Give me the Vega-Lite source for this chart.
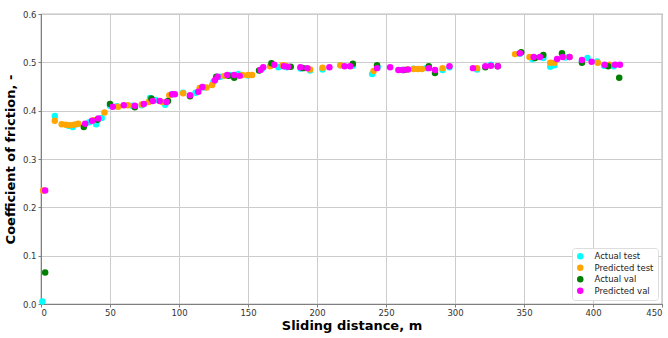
{
  "$schema": "https://vega.github.io/schema/vega-lite/v6.json",
  "width": 621,
  "height": 290,
  "autosize": "none",
  "padding": {"left": 41, "top": 14, "right": 6, "bottom": 34},
  "background": "white",
  "config": {
    "view": {"stroke": "#7f7f7f", "strokeWidth": 1.2},
    "font": "DejaVu Sans"
  },
  "data": {
    "values": [
      {"s":"Actual test","d":1,"c":0.005},{"s":"Actual test","d":10,"c":0.389},{"s":"Actual test","d":20,"c":0.369},{"s":"Actual test","d":23,"c":0.366},{"s":"Actual test","d":26,"c":0.372},{"s":"Actual test","d":35,"c":0.376},{"s":"Actual test","d":40,"c":0.372},{"s":"Actual test","d":44,"c":0.385},{"s":"Actual test","d":50,"c":0.41},{"s":"Actual test","d":55,"c":0.409},{"s":"Actual test","d":66,"c":0.41},{"s":"Actual test","d":73,"c":0.411},{"s":"Actual test","d":79,"c":0.426},{"s":"Actual test","d":83,"c":0.422},{"s":"Actual test","d":90,"c":0.412},{"s":"Actual test","d":95,"c":0.434},{"s":"Actual test","d":103,"c":0.437},{"s":"Actual test","d":112,"c":0.437},{"s":"Actual test","d":118,"c":0.448},{"s":"Actual test","d":125,"c":0.46},{"s":"Actual test","d":130,"c":0.47},{"s":"Actual test","d":137,"c":0.474},{"s":"Actual test","d":143,"c":0.476},{"s":"Actual test","d":150,"c":0.473},{"s":"Actual test","d":160,"c":0.486},{"s":"Actual test","d":167,"c":0.494},{"s":"Actual test","d":172,"c":0.49},{"s":"Actual test","d":178,"c":0.49},{"s":"Actual test","d":188,"c":0.487},{"s":"Actual test","d":195,"c":0.483},{"s":"Actual test","d":204,"c":0.485},{"s":"Actual test","d":217,"c":0.494},{"s":"Actual test","d":226,"c":0.493},{"s":"Actual test","d":240,"c":0.476},{"s":"Actual test","d":244,"c":0.49},{"s":"Actual test","d":262,"c":0.484},{"s":"Actual test","d":270,"c":0.487},{"s":"Actual test","d":279,"c":0.488},{"s":"Actual test","d":291,"c":0.484},{"s":"Actual test","d":296,"c":0.49},{"s":"Actual test","d":316,"c":0.485},{"s":"Actual test","d":326,"c":0.495},{"s":"Actual test","d":347,"c":0.518},{"s":"Actual test","d":356,"c":0.507},{"s":"Actual test","d":364,"c":0.509},{"s":"Actual test","d":369,"c":0.491},{"s":"Actual test","d":372,"c":0.494},{"s":"Actual test","d":380,"c":0.51},{"s":"Actual test","d":392,"c":0.501},{"s":"Actual test","d":396,"c":0.509},{"s":"Actual test","d":403,"c":0.502},{"s":"Actual test","d":408,"c":0.493},{"s":"Actual test","d":415,"c":0.492},
      {"s":"Predicted test","d":1.5,"c":0.235},{"s":"Predicted test","d":10,"c":0.379},{"s":"Predicted test","d":15,"c":0.372},{"s":"Predicted test","d":18,"c":0.371},{"s":"Predicted test","d":21,"c":0.37},{"s":"Predicted test","d":24,"c":0.371},{"s":"Predicted test","d":27,"c":0.373},{"s":"Predicted test","d":38,"c":0.38},{"s":"Predicted test","d":46,"c":0.396},{"s":"Predicted test","d":56,"c":0.408},{"s":"Predicted test","d":63,"c":0.411},{"s":"Predicted test","d":73,"c":0.413},{"s":"Predicted test","d":78,"c":0.418},{"s":"Predicted test","d":88,"c":0.418},{"s":"Predicted test","d":93,"c":0.432},{"s":"Predicted test","d":103,"c":0.436},{"s":"Predicted test","d":115,"c":0.447},{"s":"Predicted test","d":120,"c":0.448},{"s":"Predicted test","d":124,"c":0.453},{"s":"Predicted test","d":133,"c":0.472},{"s":"Predicted test","d":146,"c":0.474},{"s":"Predicted test","d":150,"c":0.474},{"s":"Predicted test","d":153,"c":0.474},{"s":"Predicted test","d":166,"c":0.492},{"s":"Predicted test","d":175,"c":0.494},{"s":"Predicted test","d":177,"c":0.493},{"s":"Predicted test","d":195,"c":0.485},{"s":"Predicted test","d":204,"c":0.489},{"s":"Predicted test","d":217,"c":0.494},{"s":"Predicted test","d":241,"c":0.482},{"s":"Predicted test","d":265,"c":0.485},{"s":"Predicted test","d":270,"c":0.486},{"s":"Predicted test","d":273,"c":0.486},{"s":"Predicted test","d":276,"c":0.486},{"s":"Predicted test","d":291,"c":0.488},{"s":"Predicted test","d":316,"c":0.488},{"s":"Predicted test","d":343.5,"c":0.517},{"s":"Predicted test","d":354,"c":0.511},{"s":"Predicted test","d":369,"c":0.499},{"s":"Predicted test","d":372,"c":0.499},{"s":"Predicted test","d":383,"c":0.511},{"s":"Predicted test","d":403.5,"c":0.499},{"s":"Predicted test","d":412,"c":0.495},
      {"s":"Actual val","d":3,"c":0.065},{"s":"Actual val","d":31,"c":0.366},{"s":"Actual val","d":41,"c":0.381},{"s":"Actual val","d":50,"c":0.414},{"s":"Actual val","d":68,"c":0.407},{"s":"Actual val","d":80,"c":0.425},{"s":"Actual val","d":92,"c":0.42},{"s":"Actual val","d":108,"c":0.43},{"s":"Actual val","d":127,"c":0.47},{"s":"Actual val","d":136,"c":0.472},{"s":"Actual val","d":140,"c":0.468},{"s":"Actual val","d":158,"c":0.483},{"s":"Actual val","d":167,"c":0.498},{"s":"Actual val","d":181,"c":0.491},{"s":"Actual val","d":190,"c":0.488},{"s":"Actual val","d":226,"c":0.497},{"s":"Actual val","d":243.5,"c":0.494},{"s":"Actual val","d":263,"c":0.484},{"s":"Actual val","d":281,"c":0.492},{"s":"Actual val","d":285.5,"c":0.478},{"s":"Actual val","d":322,"c":0.49},{"s":"Actual val","d":331,"c":0.492},{"s":"Actual val","d":348,"c":0.521},{"s":"Actual val","d":358,"c":0.509},{"s":"Actual val","d":364,"c":0.515},{"s":"Actual val","d":377.5,"c":0.519},{"s":"Actual val","d":392,"c":0.499},{"s":"Actual val","d":411,"c":0.492},{"s":"Actual val","d":419,"c":0.468},
      {"s":"Predicted val","d":3,"c":0.235},{"s":"Predicted val","d":32,"c":0.373},{"s":"Predicted val","d":37,"c":0.379},{"s":"Predicted val","d":41.5,"c":0.384},{"s":"Predicted val","d":52,"c":0.408},{"s":"Predicted val","d":60,"c":0.411},{"s":"Predicted val","d":68,"c":0.41},{"s":"Predicted val","d":74.5,"c":0.414},{"s":"Predicted val","d":81,"c":0.42},{"s":"Predicted val","d":86,"c":0.42},{"s":"Predicted val","d":91,"c":0.418},{"s":"Predicted val","d":95,"c":0.434},{"s":"Predicted val","d":97,"c":0.434},{"s":"Predicted val","d":108,"c":0.432},{"s":"Predicted val","d":114,"c":0.439},{"s":"Predicted val","d":117,"c":0.449},{"s":"Predicted val","d":126,"c":0.463},{"s":"Predicted val","d":128,"c":0.47},{"s":"Predicted val","d":135,"c":0.474},{"s":"Predicted val","d":140,"c":0.474},{"s":"Predicted val","d":144,"c":0.472},{"s":"Predicted val","d":159,"c":0.484},{"s":"Predicted val","d":161,"c":0.49},{"s":"Predicted val","d":169,"c":0.495},{"s":"Predicted val","d":176,"c":0.492},{"s":"Predicted val","d":179,"c":0.491},{"s":"Predicted val","d":188,"c":0.49},{"s":"Predicted val","d":193,"c":0.488},{"s":"Predicted val","d":209,"c":0.49},{"s":"Predicted val","d":220,"c":0.492},{"s":"Predicted val","d":224,"c":0.492},{"s":"Predicted val","d":243.5,"c":0.488},{"s":"Predicted val","d":253,"c":0.49},{"s":"Predicted val","d":259,"c":0.484},{"s":"Predicted val","d":262,"c":0.484},{"s":"Predicted val","d":266,"c":0.485},{"s":"Predicted val","d":281,"c":0.488},{"s":"Predicted val","d":285.5,"c":0.484},{"s":"Predicted val","d":296,"c":0.492},{"s":"Predicted val","d":313,"c":0.488},{"s":"Predicted val","d":322,"c":0.492},{"s":"Predicted val","d":326,"c":0.493},{"s":"Predicted val","d":331,"c":0.492},{"s":"Predicted val","d":347,"c":0.519},{"s":"Predicted val","d":357,"c":0.511},{"s":"Predicted val","d":361.5,"c":0.511},{"s":"Predicted val","d":374,"c":0.507},{"s":"Predicted val","d":378,"c":0.511},{"s":"Predicted val","d":383,"c":0.511},{"s":"Predicted val","d":392,"c":0.505},{"s":"Predicted val","d":399,"c":0.501},{"s":"Predicted val","d":408.5,"c":0.495},{"s":"Predicted val","d":416,"c":0.495},{"s":"Predicted val","d":419.5,"c":0.495}
    ]
  },
  "mark": {"type": "circle", "size": 42, "opacity": 1},
  "encoding": {
    "x": {
      "field": "d", "type": "quantitative",
      "scale": {"domain": [0, 450], "nice": false, "zero": false},
      "axis": {
        "title": "Sliding distance, m", "titleFontSize": 13, "titleFontWeight": "bold", "titleColor": "black", "titlePadding": 3,
        "values": [0,50,100,150,200,250,300,350,400,450], "format": "d",
        "labelFontSize": 8.5, "labelColor": "#333", "tickColor": "#7f7f7f", "tickSize": 3,
        "gridColor": "#cccccc", "gridWidth": 1, "domainColor": "#7f7f7f", "labelPadding": 1
      }
    },
    "y": {
      "field": "c", "type": "quantitative",
      "scale": {"domain": [0, 0.6], "nice": false},
      "axis": {
        "title": "Coefficient of friction, -", "titleFontSize": 13, "titleFontWeight": "bold", "titleColor": "black", "titlePadding": 5,
        "values": [0,0.1,0.2,0.3,0.4,0.5,0.6], "format": ".1f",
        "labelFontSize": 8.5, "labelColor": "#333", "tickColor": "#7f7f7f", "tickSize": 3,
        "gridColor": "#cccccc", "gridWidth": 1, "domainColor": "#7f7f7f", "labelPadding": 2
      }
    },
    "color": {
      "field": "s", "type": "nominal",
      "scale": {
        "domain": ["Actual test", "Predicted test", "Actual val", "Predicted val"],
        "range": ["#00ffff", "#ffa500", "#008000", "#ff00ff"]
      },
      "legend": {
        "title": null, "orient": "bottom-right", "offset": 4,
        "labelFontSize": 8.5, "labelColor": "#222", "symbolSize": 42, "symbolType": "circle",
        "fillColor": "white", "strokeColor": "#dddddd", "padding": 4, "cornerRadius": 3,
        "rowPadding": 2.5, "labelOffset": 10
      }
    }
  }
}
